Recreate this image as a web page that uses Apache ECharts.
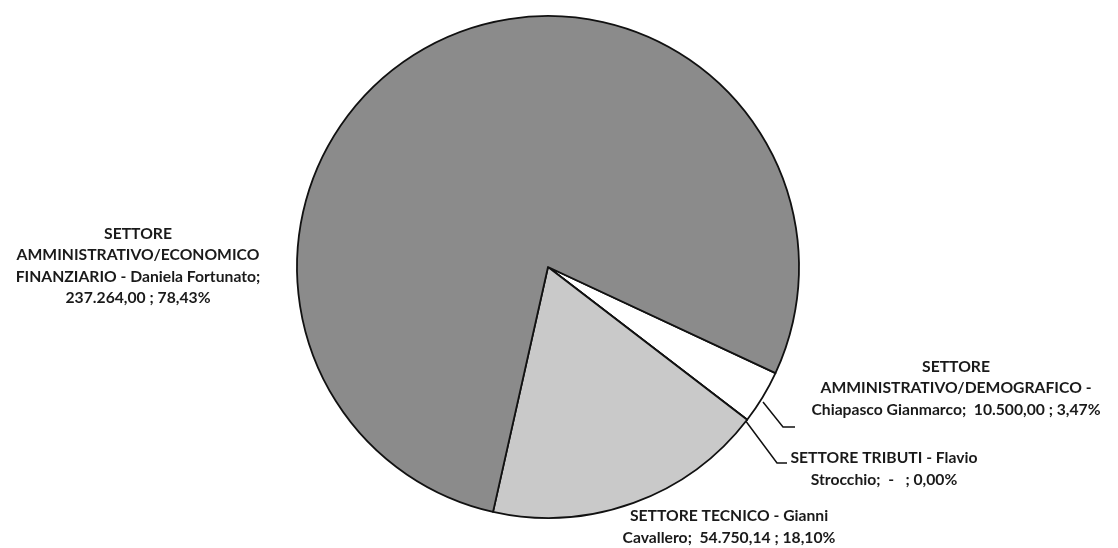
<!DOCTYPE html>
<html><head><meta charset="utf-8">
<script src="https://cdn.jsdelivr.net/npm/echarts@6/dist/echarts.min.js"></script>
<style>html,body{margin:0;padding:0;background:#fff}#c{width:1118px;height:548px}</style>
</head><body><div id="c"></div>
<script>
const names = [
  "SETTORE\nAMMINISTRATIVO/DEMOGRAFICO -\nChiapasco Gianmarco",
  "SETTORE TRIBUTI - Flavio\nStrocchio",
  "SETTORE TECNICO - Gianni\nCavallero",
  "SETTORE\nAMMINISTRATIVO/ECONOMICO\nFINANZIARIO - Daniela Fortunato"
];
const values = [10500.00, 0, 54750.14, 237264.00];
const valueSeps = [";  ", ";  ", ";  ", ";\n"];
const colors = ["#ffffff", "#ffffff", "#c9c9c9", "#8b8b8b"];
const labelPos = [[956, 388], [884, 469], [729, 527], [138, 266]];
const leaderLines = [
  [[763, 402], [783, 427], [795, 427]],
  [[745, 420], [777, 463], [787, 463]],
  null, null
];

function fmtNum(v) {
  if (v === 0) return "-  ";
  const parts = v.toFixed(2).split(".");
  parts[0] = parts[0].replace(/\B(?=(\d{3})+(?!\d))/g, ".");
  return parts.join(",");
}
const total = values.reduce((a, b) => a + b, 0);

const chart = echarts.init(document.getElementById('c'));
chart.setOption({
  animation: false,
  backgroundColor: '#fff',
  series: [{
    type: 'pie',
    center: [548, 267],
    radius: 251,
    startAngle: -25,
    clockwise: true,
    avoidLabelOverlap: false,
    data: names.map((n, i) => ({
      name: n, value: values[i],
      itemStyle: { color: colors[i] },
      labelLine: { show: !!leaderLines[i] }
    })),
    itemStyle: { borderColor: '#111', borderWidth: 1.8 },
    label: {
      show: true,
      position: 'outside',
      formatter: p => p.name + valueSeps[p.dataIndex] + fmtNum(p.value) + " ; " +
        (p.value / total * 100).toFixed(2).replace('.', ',') + "%",
      fontFamily: 'Lato, "Liberation Sans", sans-serif',
      fontWeight: 'bold',
      fontSize: 15.7,
      lineHeight: 21.5,
      color: '#1a1a1a',
      align: 'center'
    },
    labelLine: { lineStyle: { color: '#111', width: 1.5 } },
    labelLayout: function (params) {
      const i = params.dataIndex;
      const r = { x: labelPos[i][0], y: labelPos[i][1], align: 'center', verticalAlign: 'middle' };
      if (leaderLines[i]) r.labelLinePoints = leaderLines[i];
      return r;
    }
  }]
});
</script></body></html>
